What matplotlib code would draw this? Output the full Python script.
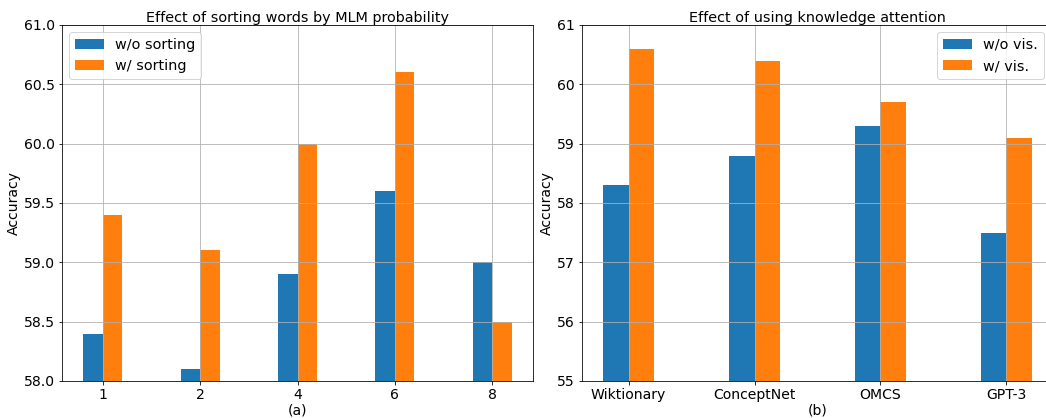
import numpy as np
import matplotlib
matplotlib.use('Agg')
import matplotlib.pyplot as plt

## --------------------------- Data --------------------------------------

sort_labels = ['1', '2', '4', '6', '8']
wo_sorting = [58.4, 58.1, 58.9, 59.6, 59.0]
w_sorting = [59.4, 59.1, 60.0, 60.6, 58.5]

kb_labels = ['Wiktionary', 'ConceptNet', 'OMCS', 'GPT-3']
wo_vis = [58.3, 58.8, 59.3, 57.5]
w_vis = [60.6, 60.4, 59.7, 59.1]

## --------------------------- Plotting --------------------------------------

plt.rcParams['font.size'] = 14
width = 0.2
DPI = 72

W, H = 1046, 418
fig = plt.figure(figsize=(W / DPI, H / DPI), dpi=DPI)
ax1 = fig.add_axes([62 / W, 37 / H, 471 / W, 356 / H])
ax2 = fig.add_axes([582 / W, 37 / H, 471 / W, 356 / H])

x1 = np.arange(len(sort_labels))
ax1.bar(x1 - width / 2, wo_sorting, width, label='w/o sorting')
ax1.bar(x1 + width / 2, w_sorting, width, label='w/ sorting')
ax1.set_xticks(x1)
ax1.set_xticklabels(sort_labels)
ax1.set_ylim(58.0, 61.0)
ax1.set_yticks(np.arange(58.0, 61.01, 0.5))
ax1.set_ylabel('Accuracy', labelpad=3)
ax1.set_xlabel('(a)', labelpad=1)
ax1.set_title('Effect of sorting words by MLM probability', fontsize=14.4, pad=3)
ax1.grid(True)
ax1.legend(loc='upper left', fontsize=14.4)

x2 = np.arange(len(kb_labels))
ax2.bar(x2 - width / 2, wo_vis, width, label='w/o vis.')
ax2.bar(x2 + width / 2, w_vis, width, label='w/ vis.')
ax2.set_xticks(x2)
ax2.set_xticklabels(kb_labels)
ax2.set_ylim(55, 61)
ax2.set_ylabel('Accuracy', labelpad=3)
ax2.set_xlabel('(b)', labelpad=1)
ax2.set_title('Effect of using knowledge attention', fontsize=14.4, pad=3)
ax2.grid(True)
ax2.legend(loc='upper right', bbox_to_anchor=(0.996, 1.0), fontsize=14.4)

fig.savefig('out.png', dpi=DPI)
